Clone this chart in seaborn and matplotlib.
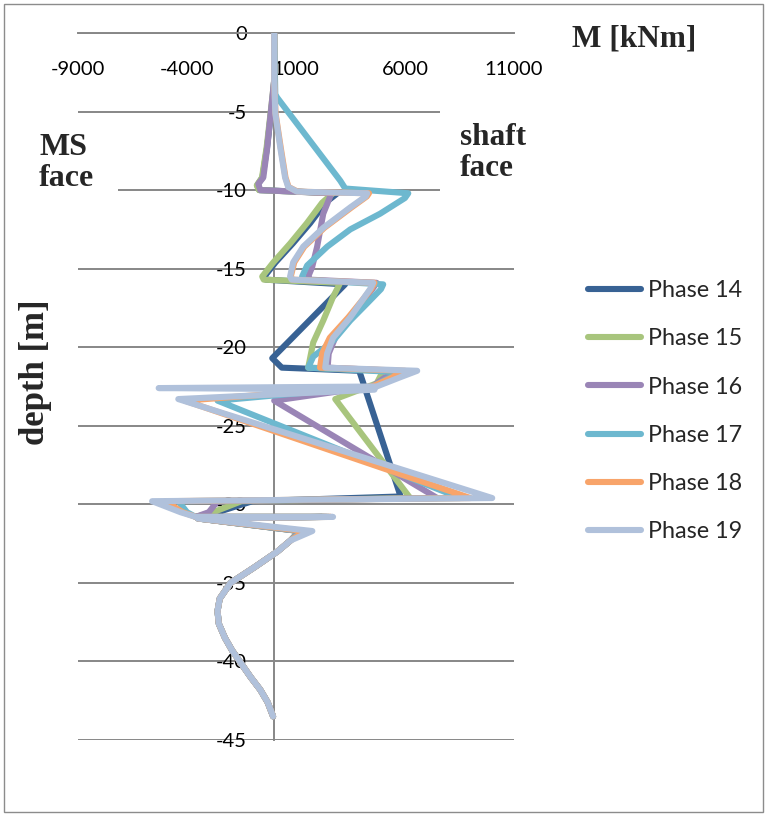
import numpy as np
import pandas as pd
import seaborn as sns
import matplotlib.pyplot as plt
from matplotlib.patches import Rectangle

W, H = 769, 814

PHASES = ["Phase 14", "Phase 15", "Phase 16", "Phase 17", "Phase 18", "Phase 19"]
COLORS = ["#386294", "#A8C57D", "#9A85B6", "#6DB8CF", "#F8A46A", "#B0C1DB"]

X_TICKS = [-9000, -4000, 1000, 6000, 11000]
Y_TICKS = [0, -5, -10, -15, -20, -25, -30, -35, -40, -45]

# shared lower part of the moment curve (below -31.7 m)
CURVE_DEPTH = [-32.3, -33.0, -34.0, -35.0, -36.0, -36.8, -37.6, -38.5, -39.3, -40.0, -41.0, -41.8, -42.6, -43.5]
CURVE_M = [750, 150, -900, -2000, -2500, -2600, -2540, -2260, -1930, -1580, -1080, -640, -300, -50]

P14_DEPTH = [0, -3.0, -4.3, -7.3, -9.2, -9.7, -10.0, -10.2, -10.8, -12.1, -13.4, -14.6, -15.5, -15.7,
             -16.0, -20.7, -21.3, -21.5, -29.5, -29.8, -30.5, -30.8, -30.8, -30.9, -31.7]
P14_M = [0, 0, -80, -330, -540, -780, -680, 2900, 2350, 1650, 850, 60, -450, -380,
         3250, -90, 350, 3900, 5800, -1000, -2600, -3600, 2200, -3500, 1150]

P15_DEPTH = [0, -3.0, -4.3, -7.3, -9.2, -9.7, -10.0, -10.2, -10.8, -12.1, -13.4, -14.6, -15.5, -15.7,
             -15.9, -16.8, -18.3, -19.7, -21.3, -21.5, -22.3, -23.3, -29.6, -29.8, -30.5, -30.8, -30.8, -30.9, -31.7]
P15_M = [0, 0, -100, -350, -560, -800, -700, 2700, 2200, 1500, 730, -40, -550, -480,
         3030, 2700, 2250, 1790, 1560, 5000, 4700, 2800, 6240, -1500, -2800, -3600, 2300, -3500, 1150]

P16_DEPTH = [0, -3.0, -4.3, -7.3, -9.2, -9.6, -10.0, -10.2, -10.4, -11.5, -13.6, -14.9, -15.5, -15.7,
             -15.9, -16.3, -18.1, -19.4, -20.4, -21.3, -21.5, -22.0, -22.5, -23.4, -29.6, -29.8, -30.5, -30.8, -30.8, -30.9, -31.7]
P16_M = [0, 0, -100, -320, -500, -730, -640, 2600, 2570, 2250, 1970, 1740, 1560, 1620,
         4700, 4500, 3500, 2800, 2500, 2450, 5600, 5000, 4500, 0, 7480, -2600, -3000, -3600, 2400, -3500, 1200]

P17_DEPTH = [0, -3.9, -4.1, -9.4, -9.9, -10.2, -10.5, -11.5, -12.5, -13.6, -14.8, -15.5, -15.7,
             -16.0, -16.3, -17.2, -18.3, -19.6, -20.6, -21.3, -21.6, -22.0, -22.5, -23.4, -29.6, -29.8, -30.5, -30.8, -30.8, -30.9, -31.7]
P17_M = [0, 50, 130, 3030, 3260, 6150, 6000, 4860, 3490, 2430, 1510, 1280, 1350,
         5000, 4900, 4270, 3490, 2700, 1790, 1560, 5870, 5200, 4500, -2600, 8530, -4400, -4000, -3600, 2500, -3500, 1300]

P18_DEPTH = [0, -3.0, -5.1, -7.3, -9.2, -9.8, -10.1, -10.2, -10.4, -11.1, -12.4, -13.6, -14.6, -15.5, -15.7,
             -15.9, -16.3, -18.1, -19.4, -20.4, -21.3, -21.5, -22.0, -22.5, -23.4, -29.6, -29.8, -30.5, -30.8, -30.8, -30.9, -31.7]
P18_M = [0, 0, 60, 300, 520, 660, 1080, 4350, 4250, 3550, 2300, 1380, 920, 760, 830,
         4600, 4450, 3400, 2550, 2200, 2100, 6000, 5300, 4500, -4100, 9000, -5000, -4200, -3600, 2600, -3500, 1400]

P19_DEPTH = [0, -3.0, -5.1, -7.3, -9.2, -9.8, -10.1, -10.2, -10.4, -11.1, -12.4, -13.6, -14.6, -15.5, -15.7,
             -15.9, -16.3, -18.1, -19.4, -20.4, -21.3, -21.5, -21.9, -22.5, -22.6, -22.7, -23.3,
             -29.6, -29.8, -30.5, -30.8, -30.8, -30.9, -31.7]
P19_M = [0, 0, 50, 280, 500, 640, 1050, 4270, 4200, 3490, 2250, 1330, 870, 730, 800,
         4540, 4400, 3490, 2700, 2430, 2340, 6560, 5800, 4700, -5300, 4600, -4400,
         10000, -5600, -4300, -3600, 2700, -3500, 1750]

SERIES = [(P14_DEPTH, P14_M), (P15_DEPTH, P15_M), (P16_DEPTH, P16_M),
          (P17_DEPTH, P17_M), (P18_DEPTH, P18_M), (P19_DEPTH, P19_M)]

rows = []
for name, (dep, mom) in zip(PHASES, SERIES):
    d_all = list(dep) + CURVE_DEPTH
    m_all = list(mom) + CURVE_M
    for i, (d, m) in enumerate(zip(d_all, m_all)):
        rows.append({"phase": name, "depth": d, "M": m, "idx": i})
df = pd.DataFrame(rows)

sns.set_theme(style="white")
plt.rcParams['font.family'] = ['Lato', 'DejaVu Sans']

fig = plt.figure(figsize=(W / 100, H / 100), dpi=100)
ax = fig.add_axes([78 / W, 1 - 740 / H, (514 - 78) / W, (740 - 33) / H])

sns.lineplot(data=df, x="M", y="depth", hue="phase", hue_order=PHASES,
             palette=COLORS, sort=False, estimator=None, lw=4.4, ax=ax,
             solid_capstyle="round", solid_joinstyle="round", legend=True)

ax.set_xlim(X_TICKS[0], X_TICKS[-1])
ax.set_ylim(-45, 0)
ax.set_xticks(X_TICKS)
ax.set_xticklabels([str(v) for v in X_TICKS])
ax.set_yticks(Y_TICKS)
ax.set_yticklabels([str(v) for v in Y_TICKS])
ax.set_xlabel("")
ax.set_ylabel("")

grid_c = "#878787"
ax.grid(axis="y", color=grid_c, lw=1.4, zorder=0)
ax.grid(axis="x", visible=False)
ax.set_axisbelow(True)
for s in ["top", "right"]:
    ax.spines[s].set_visible(False)
ax.spines["bottom"].set_position(("data", 0))
ax.spines["left"].set_position(("data", 0))
for s in ["bottom", "left"]:
    ax.spines[s].set_color(grid_c)
    ax.spines[s].set_linewidth(1.4)
    ax.spines[s].set_zorder(1)
ax.tick_params(axis="x", direction="out", length=5, width=1.4, color=grid_c,
               pad=15, labelsize=14.5, labelcolor="black")
ax.tick_params(axis="y", length=0, pad=19.5, labelsize=14.5, labelcolor="black")

handles, labels = ax.get_legend_handles_labels()
for h in handles:
    h.set_linewidth(4.4)
    h.set_solid_capstyle("round")
leg = ax.legend(handles, labels, frameon=False, loc="upper left",
                bbox_to_anchor=(588 / W, 1 - 280 / H), bbox_transform=fig.transFigure,
                fontsize=16.8, handlelength=2.25, handletextpad=0.3, labelspacing=1.17,
                borderpad=0, borderaxespad=0)

# white text boxes that hide the gridlines
fig.patches.append(Rectangle((20 / W, 1 - 202 / H), 98 / W, 82 / H, transform=fig.transFigure,
                             fc="white", ec="none", zorder=1))
fig.patches.append(Rectangle((440 / W, 1 - 202 / H), 100 / W, 96 / H, transform=fig.transFigure,
                             fc="white", ec="none", zorder=1))

serif = ["Liberation Serif", "DejaVu Serif"]
fig.text(572 / W, 1 - 39 / H, "M [kNm]", fontsize=22.5, fontweight="bold", family=serif,
         ha="left", va="center", zorder=3)
fig.text(39 / W, 1 - 163 / H, "MS\nface", fontsize=23, fontweight="bold", family=serif,
         ha="left", va="center", linespacing=1.08, zorder=3)
fig.text(460 / W, 1 - 153 / H, "shaft\nface", fontsize=22.5, fontweight="bold", family=serif,
         ha="left", va="center", linespacing=1.08, zorder=3)
fig.text(35 / W, 1 - 372 / H, "depth [m]", fontsize=25, fontweight="bold", family=serif,
         ha="center", va="center", rotation=90, zorder=3)

fig.patches.append(Rectangle((4 / W, 1 - 812 / H), 759 / W, 808 / H, transform=fig.transFigure,
                             fc="none", ec="#8c8c8c", lw=1, zorder=2))

fig.savefig("out.png", dpi=100)
